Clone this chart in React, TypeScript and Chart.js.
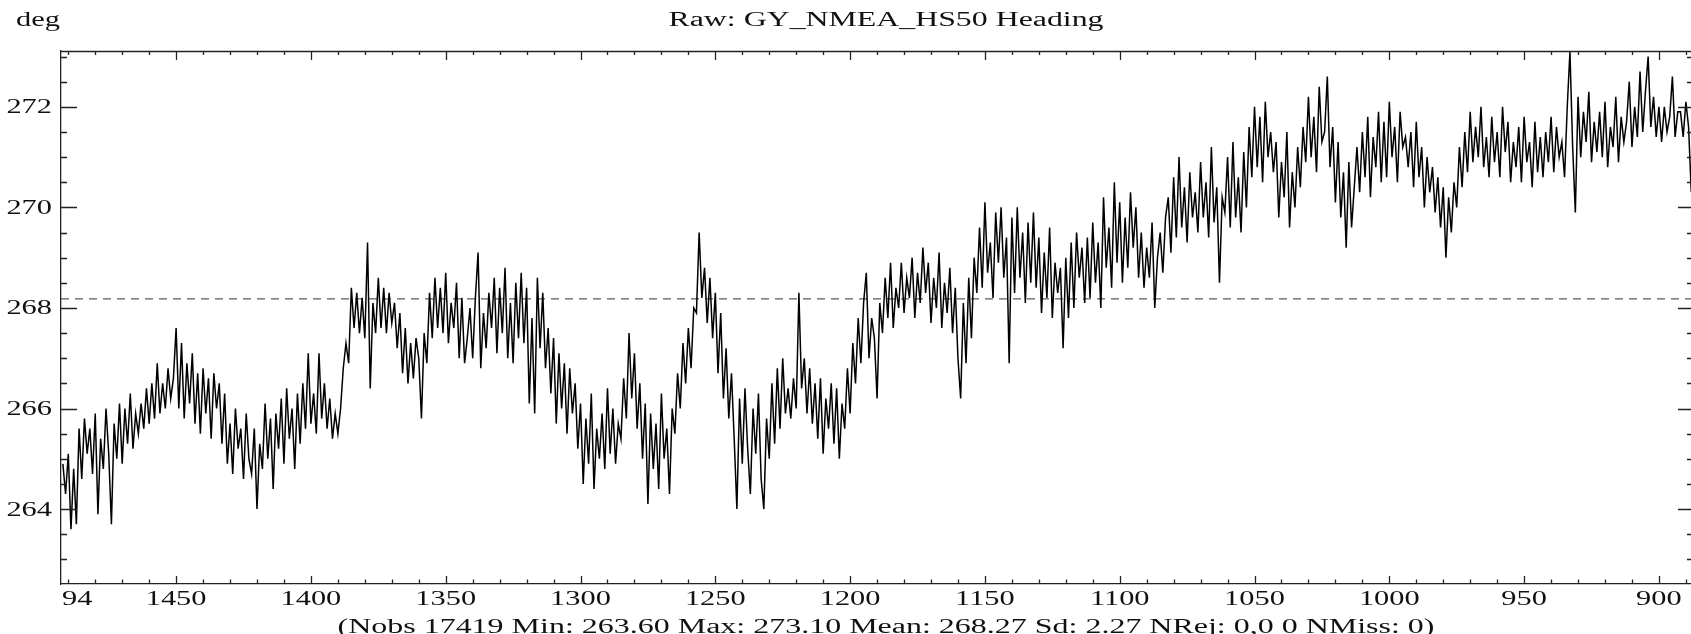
import { useEffect, useRef } from "react";
import { Chart, registerables } from "chart.js";

Chart.register(...registerables);

// ---- data (x runs from 1492 down to 888, one sample per unit) ----
const X_START = 1492;
const X_STEP = -1;

const heading1492to1393 = [
  264.9, 264.3, 265.1, 263.6, 264.8, 263.7, 265.6, 264.6, 265.8, 265.1,
  265.6, 264.7, 265.9, 263.9, 265.4, 264.8, 266.0, 265.1, 263.7, 265.7,
  265.0, 266.1, 264.9, 266.0, 265.3, 266.3, 265.2, 265.9, 265.5, 266.1,
  265.6, 266.4, 265.7, 266.5, 265.8, 266.9, 265.9, 266.5, 266.0, 266.8,
  266.2, 266.6, 267.6, 266.0, 267.3, 265.8, 266.9, 266.1, 267.1, 265.7,
  266.7, 265.5, 266.8, 265.9, 266.6, 265.4, 266.7, 266.0, 266.5, 265.3,
  266.3, 264.9, 265.7, 264.7, 266.0, 265.2, 265.6, 264.6, 265.9, 265.0,
  264.7, 265.6, 264.0, 265.3, 264.8, 266.1, 265.0, 265.8, 264.4, 265.9,
  265.2, 266.2, 264.9, 266.4, 265.4, 266.0, 264.8, 266.3, 265.3, 266.5,
  265.6, 267.1, 265.7, 266.3, 265.5, 267.1, 265.8, 266.5, 265.6, 266.2,
];
const heading1392to1293 = [
  265.4, 265.9, 265.5, 266.0, 266.8, 267.3, 266.9, 268.4, 267.6, 268.3,
  267.5, 268.2, 267.4, 269.3, 266.4, 268.1, 267.5, 268.6, 267.6, 268.4,
  267.5, 268.3, 267.7, 268.1, 267.2, 267.9, 266.7, 267.6, 266.5, 267.3,
  266.6, 267.4, 267.0, 265.8, 267.5, 266.9, 268.3, 267.4, 268.6, 267.6,
  268.4, 267.5, 268.7, 267.3, 268.1, 267.6, 268.5, 267.0, 268.2, 266.9,
  267.4, 268.0, 267.0, 268.2, 269.1, 266.8, 267.9, 267.2, 268.3, 267.6,
  268.6, 267.1, 268.4, 267.5, 268.8, 267.0, 268.1, 266.9, 268.5, 267.4,
  268.7, 267.3, 268.4, 266.1, 267.8, 265.9, 268.6, 267.2, 268.3, 266.8,
  267.6, 266.3, 267.4, 265.7, 267.1, 266.0, 266.9, 265.5, 266.8, 265.9,
  266.5, 265.2, 266.1, 264.5, 265.8, 264.9, 266.3, 264.4, 265.6, 265.0,
];
const heading1292to1193 = [
  265.9, 264.8, 266.4, 265.1, 266.0, 264.9, 265.7, 265.4, 266.6, 265.8,
  267.5, 266.2, 267.1, 265.6, 266.5, 265.0, 266.1, 264.1, 265.9, 264.8,
  265.7, 264.4, 266.3, 265.0, 265.6, 264.3, 266.0, 265.5, 266.7, 266.0,
  267.3, 266.5, 267.6, 266.8, 268.0, 267.9, 269.5, 268.2, 268.8, 267.7,
  268.6, 267.4, 268.3, 266.7, 267.9, 266.2, 267.2, 265.8, 266.7, 265.4,
  264.0, 266.2, 264.9, 266.4, 265.2, 264.3, 266.0, 265.1, 266.3, 264.6,
  264.0, 265.8, 265.0, 266.5, 265.3, 266.8, 265.6, 267.0, 265.9, 266.4,
  265.8, 266.6, 266.0, 268.3, 266.4, 267.0, 265.9, 266.8, 265.7, 266.5,
  265.4, 266.6, 265.1, 266.2, 265.6, 266.5, 265.3, 266.4, 265.0, 266.1,
  265.6, 266.8, 265.9, 267.3, 266.5, 267.8, 266.9, 268.1, 268.7, 267.0,
];
const heading1192to1093 = [
  267.8, 267.4, 266.2, 268.1, 267.5, 268.6, 267.8, 268.9, 267.6, 268.4,
  268.0, 268.9, 267.9, 268.6, 268.2, 269.0, 267.8, 268.7, 268.1, 269.2,
  268.3, 268.9, 267.7, 268.6, 268.0, 269.1, 267.6, 268.5, 267.9, 268.8,
  267.5, 268.4, 267.0, 266.2, 268.1, 266.9, 268.6, 267.4, 269.0, 268.3,
  269.6, 268.4, 270.1, 268.7, 269.3, 268.2, 269.9, 268.9, 270.0, 268.6,
  269.4, 266.9, 269.8, 268.3, 270.0, 268.6, 269.5, 268.1, 269.7, 268.5,
  269.9, 268.4, 269.4, 267.9, 269.1, 268.2, 269.6, 267.8, 268.9, 268.3,
  268.8, 267.2, 269.0, 267.8, 269.3, 268.0, 269.5, 268.6, 269.2, 268.1,
  269.4, 268.2, 269.7, 268.5, 269.3, 268.0, 270.2, 268.8, 269.6, 268.4,
  270.5, 268.9, 270.1, 268.5, 269.8, 268.8, 270.3, 269.2, 270.0, 268.6,
];
const heading1092to993 = [
  269.5, 268.4, 269.2, 268.6, 269.7, 268.0, 269.0, 269.5, 268.7, 269.8,
  270.2, 269.1, 270.6, 269.4, 271.0, 269.6, 270.4, 269.3, 270.7, 269.8,
  270.3, 269.5, 270.9, 269.8, 270.5, 269.4, 271.2, 269.7, 270.4, 268.5,
  270.2, 269.9, 271.0, 269.6, 271.3, 269.8, 270.6, 269.5, 271.1, 270.0,
  271.6, 270.6, 272.0, 270.8, 271.8, 270.5, 272.1, 271.0, 271.5, 270.7,
  271.3, 269.8, 270.9, 270.2, 271.5, 269.6, 270.7, 270.0, 271.2, 270.4,
  271.6, 270.9, 272.2, 271.0, 271.8, 270.7, 272.4, 271.3, 271.5, 272.6,
  270.8, 271.6, 270.1, 271.3, 269.8, 270.7, 269.2, 270.9, 269.6, 270.4,
  271.2, 270.3, 271.5, 270.6, 271.8, 270.2, 271.4, 270.8, 271.9, 270.5,
  271.7, 270.6, 272.1, 271.0, 271.6, 270.5, 271.9, 271.2, 271.4, 270.8,
];
const heading992to893 = [
  271.5, 270.4, 271.7, 270.6, 271.2, 270.0, 271.0, 270.3, 270.8, 269.9,
  270.6, 269.6, 270.4, 269.0, 270.2, 269.5, 270.5, 270.0, 271.2, 270.4,
  271.5, 270.7, 271.9, 270.9, 271.6, 271.0, 272.0, 270.8, 271.4, 270.6,
  271.8, 270.9, 271.5, 270.6, 272.0, 271.1, 271.7, 270.5, 271.3, 270.8,
  271.6, 270.5, 271.8, 270.9, 271.3, 270.4, 271.7, 270.7, 271.4, 270.6,
  271.5, 270.9, 271.8, 270.7, 271.6, 271.0, 271.3, 270.6, 272.0, 273.1,
  271.2, 269.9, 272.2, 271.0, 271.9, 271.3, 272.3, 270.9, 271.7, 271.1,
  271.9, 271.0, 272.1, 270.8, 271.6, 271.2, 272.2, 270.9, 271.8, 271.3,
  271.7, 272.5, 271.2, 272.0, 271.4, 272.7, 271.5, 272.3, 273.0, 271.6,
  272.2, 271.4, 272.0, 271.3, 272.0, 271.5, 271.8, 272.6, 271.4, 271.9,
];
const heading892to888 = [271.9, 271.4, 272.1, 271.6, 270.3];

const xTickValues = [1450, 1400, 1350, 1300, 1250, 1200, 1150, 1100, 1050, 1000, 950, 900];
const yTickValues = [264, 266, 268, 270, 272];
const clippedLeftLabel = "94";
const meanLineValue = 268.18;

const X_MIN = 888.1;
const X_MAX = 1492.7;
const Y_MIN = 262.51;
const Y_MAX = 273.11;

const TITLE = "Raw: GY_NMEA_HS50 Heading";
const UNIT = "deg";
const FOOTER =
  "(Nobs 17419 Min: 263.60 Max: 273.10 Mean: 268.27 Sd: 2.27 NRej: 0,0 0 NMiss: 0)";

const headingValues = [
  ...heading1492to1393,
  ...heading1392to1293,
  ...heading1292to1193,
  ...heading1192to1093,
  ...heading1092to993,
  ...heading992to893,
  ...heading892to888,
];

const FONT = '20px "Liberation Serif", "Times New Roman", serif';
const SX = 1.52;
const INK = "#111";

function stretchedText(
  ctx: CanvasRenderingContext2D,
  text: string,
  x: number,
  baseline: number,
  align: CanvasTextAlign,
  sx: number
) {
  ctx.save();
  ctx.translate(x, baseline);
  ctx.scale(sx, 1);
  ctx.textAlign = align;
  ctx.textBaseline = "alphabetic";
  ctx.fillText(text, 0, 0);
  ctx.restore();
}

const framePlugin = {
  id: "frame",
  afterDraw(chart: any) {
    const { ctx, chartArea: a, scales } = chart;
    const xs = scales.x;
    const ys = scales.y;
    ctx.save();
    ctx.strokeStyle = "#222";
    ctx.lineWidth = 1.3;
    ctx.beginPath();
    // top border
    ctx.moveTo(a.left, a.top + 0.5);
    ctx.lineTo(a.right, a.top + 0.5);
    // x ticks (bottom and top), major every 50, minor every 10
    for (let v = 890; v <= 1490; v += 10) {
      const px = Math.round(xs.getPixelForValue(v)) + 0.5;
      const major = v % 50 === 0;
      ctx.moveTo(px, a.bottom);
      ctx.lineTo(px, a.bottom - (major ? 8 : 4.5));
      ctx.moveTo(px, a.top);
      ctx.lineTo(px, a.top + (major ? 9 : 4));
    }
    // y ticks (left and right), major every 2, minor every 0.5
    for (let v = 263; v <= 273; v += 0.5) {
      const py = Math.round(ys.getPixelForValue(v)) + 0.5;
      const major = v % 2 === 0;
      ctx.moveTo(a.left, py);
      ctx.lineTo(a.left + (major ? 16 : 6), py);
      ctx.moveTo(a.right, py);
      ctx.lineTo(a.right - (major ? 13 : 4), py);
    }
    ctx.stroke();

    ctx.fillStyle = INK;
    ctx.font = FONT;
    // x labels
    xTickValues.forEach((v) => {
      stretchedText(ctx, String(v), xs.getPixelForValue(v), a.bottom + 21, "center", SX);
    });
    stretchedText(ctx, clippedLeftLabel, a.left + 1, a.bottom + 21, "left", SX);
    // y labels
    yTickValues.forEach((v) => {
      stretchedText(ctx, String(v), a.left - 9, ys.getPixelForValue(v) + 6.5, "right", SX);
    });
    // unit, title, footer
    stretchedText(ctx, UNIT, 16, 25.5, "left", SX);
    const tw = ctx.measureText(TITLE).width;
    stretchedText(ctx, TITLE, 886, 25.5, "center", 435 / tw);
    const fw = ctx.measureText(FOOTER).width;
    stretchedText(ctx, FOOTER, 886, 632.5, "center", 1097 / fw);
    ctx.restore();
  },
};

export default function App() {
  const canvasRef = useRef<HTMLCanvasElement | null>(null);

  useEffect(() => {
    const canvas = canvasRef.current;
    if (!canvas) return;
    const points = headingValues.map((y, i) => ({ x: X_START + i * X_STEP, y }));
    const chart = new Chart(canvas, {
      type: "line",
      data: {
        datasets: [
          {
            label: "Heading",
            data: points,
            borderColor: "#000",
            borderWidth: 1.5,
            pointRadius: 0,
            tension: 0,
            fill: false,
          },
          {
            label: "Mean",
            data: [
              { x: X_MAX, y: meanLineValue },
              { x: X_MIN, y: meanLineValue },
            ],
            borderColor: "#333",
            borderWidth: 1,
            borderDash: [8, 6],
            pointRadius: 0,
            fill: false,
          },
        ],
      },
      options: {
        animation: false,
        responsive: false,
        devicePixelRatio: 1,
        layout: { padding: { left: 61, top: 51, right: 0, bottom: 50 } },
        plugins: {
          legend: { display: false },
          title: { display: false },
          tooltip: { enabled: false },
        },
        scales: {
          x: {
            type: "linear",
            reverse: true,
            min: X_MIN,
            max: X_MAX,
            ticks: { display: false },
            grid: { display: false, drawTicks: false },
            border: { display: true, color: "#222", width: 1.3 },
            afterFit: (s: any) => {
              s.height = 0;
            },
          },
          y: {
            type: "linear",
            min: Y_MIN,
            max: Y_MAX,
            ticks: { display: false },
            grid: { display: false, drawTicks: false },
            border: { display: true, color: "#222", width: 1.3 },
            afterFit: (s: any) => {
              s.width = 0;
            },
          },
        },
      },
      plugins: [framePlugin],
    } as any);
    return () => chart.destroy();
  }, []);

  return (
    <div style={{ position: "fixed", left: 0, top: 0, width: 1691, height: 634, background: "#fff" }}>
      <canvas ref={canvasRef} width={1691} height={634} style={{ display: "block" }} />
    </div>
  );
}
